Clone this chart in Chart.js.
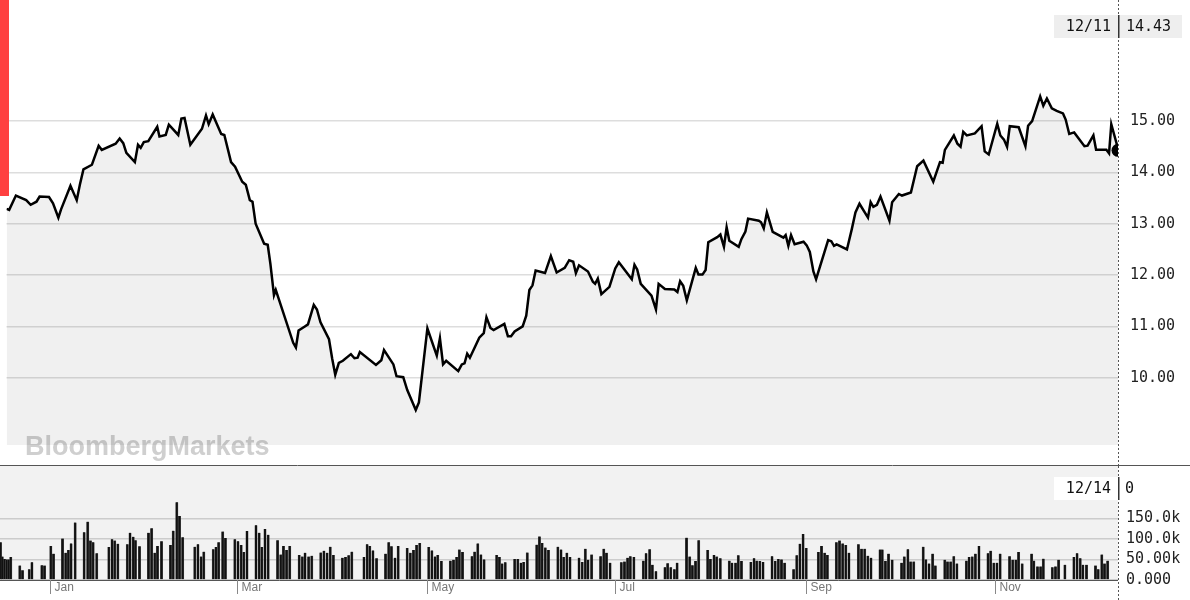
<!DOCTYPE html>
<html>
<head>
<meta charset="utf-8">
<script src="https://cdn.jsdelivr.net/npm/chart.js@4"></script>
<style>
  body { margin: 0; background: #fff; }
  #wrap { position: relative; width: 1190px; height: 600px; }
  #price { position: absolute; left: 0; top: 0; }
  #vol { position: absolute; left: 0; top: 466px; }
</style>
</head>
<body>
<div id="wrap">
  <canvas id="price" width="1190" height="466"></canvas>
  <canvas id="vol" width="1190" height="134"></canvas>
</div>
<script>
// x axis = trading-day index
const monthTicks = [11.1, 52.7, 94.9, 136.7, 179.1, 221.1];
const monthNames = ["Jan", "Mar", "May", "Jul", "Sep", "Nov"];
const priceTicks = [10, 11, 12, 13, 14, 15];
const volTicks = [0, 50000, 100000, 150000];
const volTickLabels = ["0.000", "50.00k", "100.0k", "150.0k"];

const priceDay = [0.0,0.6,2.1,4.4,5.4,6.7,7.4,9.5,10.4,11.6,12.2,14.3,15.7,16.4,17.2,19.1,20.6,21.3,24.4,25.3,
  26.1,26.8,28.7,29.4,30.0,30.7,31.7,33.7,34.2,35.6,36.3,38.4,39.1,39.8,41.1,43.7,44.6,45.2,46.1,48.0,
  48.7,50.2,51.1,52.7,53.5,54.4,55.0,55.7,57.6,58.4,59.0,59.8,60.2,64.1,64.7,65.3,66.7,67.4,68.7,69.4,
  70.2,72.1,72.8,73.5,74.3,75.2,77.0,77.8,78.5,79.0,82.6,83.8,84.4,86.5,87.2,88.7,89.6,91.5,92.2,94.1,
  96.2,96.9,97.6,98.3,101.0,101.8,102.4,103.0,103.6,105.7,106.7,107.3,108.2,108.9,111.3,112.1,112.8,113.6,115.4,116.2,
  116.9,117.6,118.3,120.4,121.7,123.0,124.8,125.8,126.7,127.3,128.0,130.0,131.1,131.6,132.2,133.0,134.8,136.1,136.9,139.8,
  140.4,141.0,141.8,144.2,145.2,145.8,147.2,149.3,150.0,150.6,151.3,152.1,154.1,154.7,155.6,156.3,156.9,158.9,159.6,160.4,
  161.0,161.6,163.7,164.3,165.2,165.8,168.2,168.7,169.3,170.0,171.3,173.7,174.2,174.8,175.4,176.2,178.2,178.9,179.6,180.4,
  181.0,183.7,184.4,185.0,185.6,187.9,189.0,189.8,190.7,192.6,193.2,193.8,194.6,195.4,197.4,198.0,199.5,200.2,202.2,203.6,
  205.0,207.2,208.7,209.3,209.8,211.8,212.6,213.3,213.9,214.7,216.5,218.0,218.7,219.6,221.5,222.2,223.0,223.7,224.3,226.3,
  227.8,228.4,229.3,231.1,231.8,232.6,233.7,234.8,236.2,236.8,237.6,238.7,241.0,241.7,243.0,243.6,245.9,246.5,247.0,248.2,248.5];
const priceClose = [13.29,13.27,13.55,13.46,13.37,13.43,13.53,13.52,13.40,13.12,13.28,13.74,13.46,13.76,14.06,14.15,14.52,14.44,14.56,14.66,
  14.57,14.38,14.20,14.54,14.48,14.59,14.61,14.89,14.70,14.73,14.93,14.73,15.05,15.06,14.54,14.85,15.11,14.94,15.13,14.75,
  14.73,14.20,14.11,13.82,13.76,13.46,13.43,13.00,12.61,12.59,12.22,11.61,11.71,10.68,10.59,10.92,11.00,11.04,11.42,11.33,
  11.08,10.75,10.38,10.06,10.29,10.33,10.46,10.38,10.39,10.50,10.25,10.34,10.54,10.26,10.03,10.01,9.76,9.37,9.52,10.96,
  10.43,10.77,10.26,10.33,10.13,10.26,10.28,10.47,10.39,10.78,10.87,11.18,10.97,10.93,11.05,10.81,10.81,10.90,11.00,11.21,
  11.71,11.80,12.09,12.04,12.37,12.05,12.14,12.29,12.26,12.04,12.19,12.07,11.87,11.83,11.93,11.63,11.77,12.13,12.25,11.92,
  12.20,12.11,11.83,11.60,11.33,11.83,11.73,11.72,11.67,11.88,11.79,11.51,12.14,12.01,12.01,12.10,12.64,12.74,12.79,12.55,
  12.93,12.67,12.55,12.70,12.85,13.10,13.06,13.03,12.91,13.22,12.84,12.73,12.78,12.57,12.78,12.60,12.65,12.58,12.45,12.07,
  11.92,12.68,12.66,12.57,12.60,12.50,12.90,13.22,13.39,13.12,13.42,13.33,13.37,13.53,13.06,13.42,13.58,13.55,13.61,14.12,
  14.23,13.82,14.20,14.19,14.44,14.72,14.56,14.50,14.79,14.72,14.76,14.90,14.41,14.35,14.95,14.72,14.64,14.50,14.90,14.88,
  14.51,14.91,15.00,15.48,15.30,15.44,15.25,15.20,15.15,15.03,14.75,14.78,14.51,14.52,14.72,14.44,14.44,14.37,14.94,14.56,14.43];

const volDay = [0.1,0.5,1.0,1.5,2.0,2.4,4.4,5.0,6.5,7.1,9.3,9.9,11.3,11.9,13.9,14.6,15.2,15.8,16.7,18.7,
  19.5,20.1,20.7,21.5,24.2,24.9,25.5,26.2,28.3,28.9,29.6,30.1,31.0,33.0,33.7,34.4,35.0,35.9,37.9,38.5,
  39.3,39.9,40.6,43.3,44.0,44.7,45.3,47.4,48.0,48.6,49.5,50.1,52.2,52.9,53.6,54.2,54.9,56.9,57.6,58.2,
  58.9,59.6,61.7,62.4,63.0,63.7,64.4,66.5,67.2,67.8,68.6,69.3,71.3,72.0,72.7,73.4,74.1,76.1,76.8,77.5,
  78.2,80.9,81.6,82.2,82.9,83.7,85.7,86.4,87.0,87.8,88.5,90.5,91.2,91.9,92.6,93.3,95.3,96.0,96.7,97.3,
  98.1,100.1,100.8,101.5,102.1,102.8,104.9,105.5,106.2,106.9,107.6,110.4,111.0,111.6,112.3,114.4,115.1,115.8,116.4,117.2,
  119.3,119.9,120.5,121.2,121.9,124.0,124.7,125.3,126.0,126.7,128.7,129.4,130.1,130.7,131.5,133.5,134.2,134.8,135.6,138.1,
  138.8,139.5,140.1,140.9,143.0,143.6,144.4,145.0,145.8,147.8,148.4,149.1,149.9,150.5,152.6,153.3,153.9,154.6,155.3,157.3,
  157.9,158.7,159.3,160.1,162.1,162.7,163.5,164.1,164.8,166.9,167.6,168.2,168.9,169.6,171.6,172.3,173.0,173.7,174.4,176.4,
  177.1,177.8,178.5,179.2,181.9,182.6,183.3,183.9,185.9,186.6,187.3,188.0,188.7,190.8,191.5,192.2,192.9,193.6,195.6,196.1,
  196.8,197.5,198.3,200.4,201.0,201.8,202.4,203.1,205.2,205.8,206.5,207.3,207.9,210.0,210.6,211.3,212.0,212.7,214.8,215.4,
  216.1,216.8,217.6,219.6,220.2,220.9,221.6,222.3,224.4,225.1,225.8,226.4,227.2,229.3,229.8,230.6,231.3,231.9,233.9,234.6,
  235.3,236.7,238.7,239.4,240.1,240.7,241.5,243.5,244.1,244.9,245.5,246.2];
const volK = [92,57,51,50,50,56,35,24,26,43,36,35,83,64,101,66,73,89,140,116,
  142,96,92,65,80,99,96,88,87,115,105,97,82,115,126,66,83,94,85,120,
  189,156,104,81,87,57,69,75,80,92,118,102,99,94,85,68,119,133,115,80,
  124,110,97,62,83,73,83,61,57,66,57,59,67,71,66,81,61,54,56,60,
  69,56,87,83,72,53,64,92,82,54,83,78,66,73,85,90,80,72,57,61,
  46,47,49,56,74,68,58,69,89,62,50,61,56,40,43,51,51,42,44,67,
  86,106,90,79,73,81,74,56,66,56,54,44,76,49,62,58,76,66,42,43,
  45,54,58,56,47,65,75,37,21,31,41,31,26,42,103,57,36,46,97,73,
  51,61,57,53,47,42,42,60,46,44,53,47,46,44,58,46,51,50,42,26,
  60,88,112,78,68,83,66,61,92,96,89,85,66,87,76,76,59,54,74,74,
  46,64,49,42,57,75,45,45,81,50,40,64,35,49,45,45,58,40,47,56,
  57,64,83,65,71,42,42,64,58,49,49,68,40,64,47,33,33,52,31,33,
  49,37,56,65,53,37,37,35,26,62,40,47];

const XMIN = 0, XMAX = 248.5;

const decoPrice = {
  id: "decoPrice",
  beforeDatasetsDraw(chart) {
    const c = chart.ctx;
    c.save();
    c.font = "bold 27px 'Liberation Sans', Arial, sans-serif";
    c.fillStyle = "#cfcfcf";
    c.textBaseline = "alphabetic";
    c.fillText("BloombergMarkets", 25, 455);
    c.restore();
  },
  afterDraw(chart) {
    const c = chart.ctx, a = chart.chartArea;
    c.save();
    c.fillStyle = "#ff4040";
    c.fillRect(0, 0, 9, 196);
    c.strokeStyle = "#555";
    c.lineWidth = 1;
    c.beginPath(); c.moveTo(0, 465.5); c.lineTo(1190, 465.5); c.stroke();
    c.setLineDash([2, 2]);
    c.beginPath(); c.moveTo(a.right + 0.5, 0); c.lineTo(a.right + 0.5, 466); c.stroke();
    c.setLineDash([]);
    c.fillStyle = "#eeeeee";
    c.fillRect(1054, 15, 128, 23);
    c.fillStyle = "#333";
    c.fillRect(1118, 15, 1.5, 23);
    c.fillStyle = "#111";
    c.font = "15px 'DejaVu Sans Mono', monospace";
    c.textBaseline = "middle";
    c.textAlign = "right";
    c.fillText("12/11", 1111, 27);
    c.textAlign = "left";
    c.fillText("14.43", 1126, 27);
    c.restore();
  }
};

new Chart(document.getElementById("price"), {
  type: "line",
  data: {
    datasets: [{
      data: priceDay.map((d, i) => ({ x: d, y: priceClose[i] })),
      borderColor: "#000",
      borderWidth: 2.5,
      backgroundColor: "rgba(0,0,0,0.06)",
      fill: "start",
      tension: 0,
      pointRadius: ctx => ctx.dataIndex === priceDay.length - 1 ? 6.5 : 0,
      pointBackgroundColor: "#000",
      pointBorderWidth: 0
    }]
  },
  options: {
    responsive: false, animation: false, devicePixelRatio: 1,
    layout: { padding: 0 },
    plugins: { legend: { display: false }, tooltip: { enabled: false } },
    scales: {
      x: { type: "linear", min: XMIN, max: XMAX, display: false },
      y: {
        position: "right", min: 8.69, max: 16.95,
        afterBuildTicks: s => { s.ticks = priceTicks.map(v => ({ value: v })); },
        afterFit: s => { s.width = 72; },
        border: { display: false },
        grid: { color: "#dddddd", lineWidth: 1.5, drawTicks: false },
        ticks: {
          color: "#222", padding: 12,
          font: { family: "'DejaVu Sans Mono', monospace", size: 15 },
          callback: v => v.toFixed(2)
        }
      }
    }
  },
  plugins: [decoPrice]
});

const decoVol = {
  id: "decoVol",
  beforeDraw(chart) {
    const c = chart.ctx, a = chart.chartArea;
    c.save();
    c.fillStyle = "#f2f2f2";
    c.fillRect(0, 0, a.right, a.bottom);
    c.restore();
  },
  afterDraw(chart) {
    const c = chart.ctx, a = chart.chartArea, xs = chart.scales.x;
    c.save();
    c.strokeStyle = "#555";
    c.lineWidth = 1;
    c.beginPath(); c.moveTo(0, a.bottom + 0.5); c.lineTo(a.right, a.bottom + 0.5); c.stroke();
    c.setLineDash([2, 2]);
    c.beginPath(); c.moveTo(a.right + 0.5, 0); c.lineTo(a.right + 0.5, 134); c.stroke();
    c.setLineDash([]);
    c.strokeStyle = "#888";
    c.font = "12px 'Liberation Sans', Arial, sans-serif";
    c.fillStyle = "#777";
    c.textBaseline = "middle";
    monthTicks.forEach((m, i) => {
      const px = Math.round(xs.getPixelForValue(m)) + 0.5;
      c.beginPath(); c.moveTo(px, a.bottom); c.lineTo(px, a.bottom + 14); c.stroke();
      c.fillText(monthNames[i], px + 4, a.bottom + 8);
    });
    c.fillStyle = "#ffffff";
    c.fillRect(1054, 11, 90, 23);
    c.fillStyle = "#333";
    c.fillRect(1118, 11, 1.5, 23);
    c.fillStyle = "#111";
    c.font = "15px 'DejaVu Sans Mono', monospace";
    c.textAlign = "right";
    c.fillText("12/14", 1111, 23);
    c.textAlign = "left";
    c.fillText("0", 1125, 23);
    c.restore();
  }
};

new Chart(document.getElementById("vol"), {
  type: "bar",
  data: {
    datasets: [{
      data: volDay.map((d, i) => ({ x: d, y: volK[i] * 1000 })),
      backgroundColor: "#111",
      borderColor: "#555",
      borderWidth: { left: 0.5, right: 0.5, top: 0, bottom: 0 },
      barThickness: 2.4
    }]
  },
  options: {
    responsive: false, animation: false, devicePixelRatio: 1,
    layout: { padding: { top: 0, bottom: 20 } },
    plugins: { legend: { display: false }, tooltip: { enabled: false } },
    scales: {
      x: { type: "linear", min: XMIN, max: XMAX, display: false, offset: false },
      y: {
        position: "right", min: 0, max: 236000,
        afterBuildTicks: s => { s.ticks = volTicks.map(v => ({ value: v })); },
        afterFit: s => { s.width = 72; },
        border: { display: false },
        grid: { color: "#cccccc", lineWidth: 1.5, drawTicks: false },
        ticks: {
          color: "#222", padding: 8,
          font: { family: "'DejaVu Sans Mono', monospace", size: 15 },
          callback: (v, i) => volTickLabels[i]
        }
      }
    }
  },
  plugins: [decoVol]
});
</script>
</body>
</html>
